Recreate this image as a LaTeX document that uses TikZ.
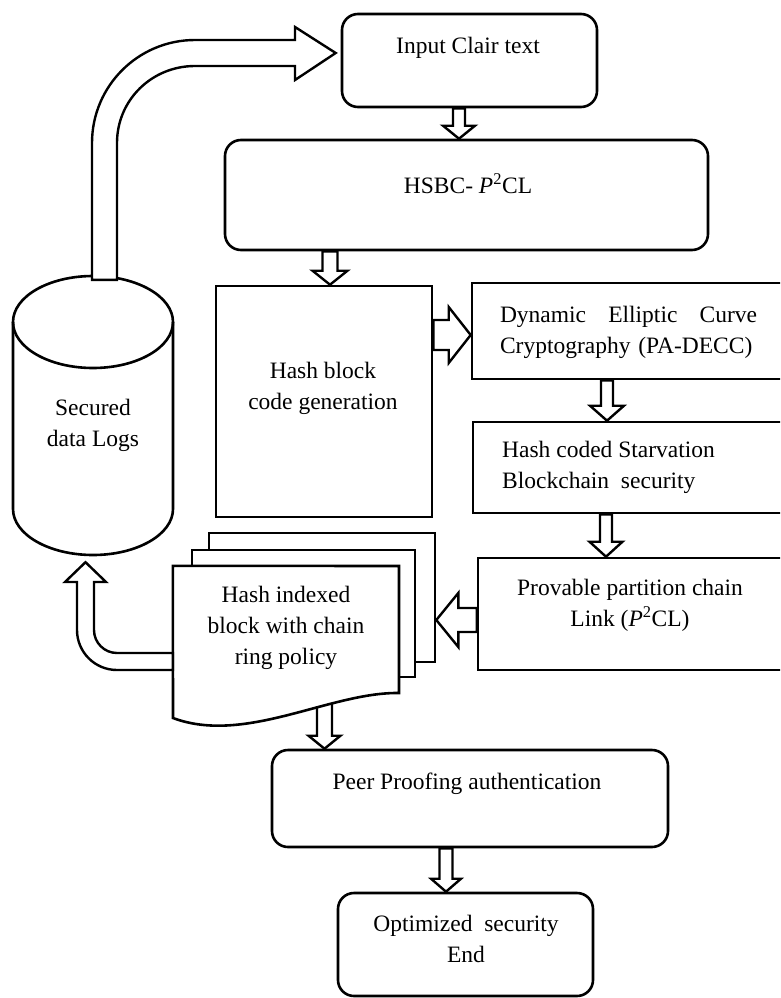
\documentclass[tikz,border=0pt]{standalone}
\usepackage{fontspec}
\setmainfont{Liberation Serif}
\usetikzlibrary{calc,fit}

% down block arrow at x=#1 from anchor #2 to anchor #3
% #4 shaft half width, #5 head half width, #6 head length
\newcommand{\dnarrow}[6]{%
  \draw[blk] let \p1=(#2), \p2=(#3) in
    (#1-#4,\y1) -- (#1-#4,\y2+#6pt) -- (#1-#5,\y2+#6pt) -- (#1,\y2)
    -- (#1+#5,\y2+#6pt) -- (#1+#4,\y2+#6pt) -- (#1+#4,\y1) -- cycle;}
% right-pointing block arrow at y=#1 from anchor #2 to anchor #3
\newcommand{\rtarrow}[6]{%
  \draw[blk] let \p1=(#2), \p2=(#3) in
    (\x1,#1-#4) -- (\x2-#6pt,#1-#4) -- (\x2-#6pt,#1-#5) -- (\x2,#1)
    -- (\x2-#6pt,#1+#5) -- (\x2-#6pt,#1+#4) -- (\x1,#1+#4) -- cycle;}
% left-pointing block arrow at y=#1 from anchor #2 to anchor #3
\newcommand{\ltarrow}[6]{%
  \draw[blk] let \p1=(#2), \p2=(#3) in
    (\x1,#1-#4) -- (\x2+#6pt,#1-#4) -- (\x2+#6pt,#1-#5) -- (\x2,#1)
    -- (\x2+#6pt,#1+#5) -- (\x2+#6pt,#1+#4) -- (\x1,#1+#4) -- cycle;}

\tikzset{
  rbox/.style={draw, line width=2.6pt, rounded corners=16pt, fill=white, inner sep=0pt},
  sbox/.style={draw, line width=2.6pt, fill=white, inner sep=0pt},
  ghost/.style={inner sep=0pt},
  lbl/.style={font=\fontsize{23.5}{31}\selectfont, align=center, inner sep=0pt},
  blk/.style={draw, fill=white, line width=2.4pt, line join=miter},
  outline/.style={draw, fill=white, line width=2.6pt, line join=miter},
}

\begin{document}
\begin{tikzpicture}[x=1pt, y=-1pt]
\clip (0,0) rectangle (780,998);
\fill[white] (0,0) rectangle (780,998);

% ---- process boxes ----
\node[rbox, fit={(342,14) (597,107)}] (in) {};
\node[rbox, fit={(225,140) (708,250)}] (hsbc) {};
\node[sbox, fit={(216,286) (432,517)}] (hb) {};
\node[sbox, fit={(472,283) (784,379)}] (decc) {};
\node[sbox, fit={(473,422) (784,513)}] (stv) {};
\node[sbox, fit={(478,558) (784,670)}] (prov) {};
\node[rbox, fit={(272,750) (668,847)}] (peer) {};
\node[rbox, fit={(338,893) (593,996)}] (opt) {};

\node[lbl] (tin) at (468,48) {Input Clair text};
\node[lbl] (thsbc) at (468,184) {HSBC- \textit{P}\textsuperscript{2}CL};
\node[lbl] (thb) at (323,388) {Hash block\\code generation};
\node[lbl, text width=257pt, align=left] (tdecc) at (628.5,332)
  {Dynamic\hfill Elliptic\hfill Curve\\Cryptography (PA-DECC)};
\node[lbl, anchor=west, align=left] (tstv) at (502,467)
  {Hash coded Starvation\\Blockchain\ \ security};
\node[lbl] (tprov) at (630,605) {Provable partition chain\\Link (\textit{P}\textsuperscript{2}CL)};
\node[lbl] (tpeer) at (467,784) {Peer Proofing authentication};
\node[lbl] (topt) at (466,939) {Optimized\ \ security\\End};

% ---- block arrows between steps ----
\dnarrow{459}{in.south}{hsbc.north}{6}{16}{13}
\dnarrow{330}{hsbc.south}{hb.north}{7.5}{17.5}{14}
\rtarrow{335}{hb.east}{decc.west}{15}{28}{22}
\dnarrow{607}{decc.south}{stv.north}{6}{17}{15}
\dnarrow{606}{stv.south}{prov.north}{6}{16.5}{15}
\dnarrow{446}{peer.south}{opt.north}{6.5}{15}{13}

% ---- stacked document: hash indexed blocks ----
\node[ghost, fit={(173,566) (399,720)}] (hid) {};
\dnarrow{324.5}{hid.center}{peer.north}{7.5}{16}{13}
\node[sbox, fit={(209,533) (435,662)}] (pg3) {};
\node[sbox, fit={(192,550) (415,677)}] (pg2) {};
\draw[outline] (hid.north west) -- (399,566) -- (399,693)
  .. controls (330,692) and (245,745) .. (173,718) -- cycle;
\node[lbl] (thid) at (286,628) {Hash indexed\\block with chain\\ring policy};
\ltarrow{620}{prov.west}{pg3.east}{12}{27}{22}

% ---- secured data log store ----
\node[ghost, fit={(13,275) (173,555)}] (db) {};
\draw[outline] (13,322) -- (13,509) arc[start angle=180, end angle=360,
  x radius=80pt, y radius=46pt] -- (173,322);
\draw[line width=2.6pt] (93,322) ellipse [x radius=80pt, y radius=46pt];
\node[lbl] (tdb) at (93,425) {Secured\\data Logs};

% store feeds back to the input
\draw[blk] let \p1=(db.north), \p2=(in.west) in
  (92,\y1-5pt) -- (92,143) .. controls (92,86.1) and (138.1,40) .. (195,40)
  -- (295,40) -- (295,27) -- (\x2-5pt,53) -- (295,80) -- (295,66)
  -- (195,66) .. controls (151.9,66) and (117,99.9) .. (117,143)
  -- (117,\y1-5pt) -- cycle;

% indexed blocks are logged into the store
\draw[blk] let \p1=(db.south), \p2=(hid.west) in
  (\x2,653) -- (117,653) .. controls (104.3,653) and (94,642.7) .. (94,630)
  -- (94,582) -- (106,582) -- (85.5,\y1-7pt) -- (65,582) -- (77,582)
  -- (77,630) .. controls (77,652.1) and (94.9,670) .. (117,670)
  -- (\x2,670) -- cycle;
\end{tikzpicture}
\end{document}
